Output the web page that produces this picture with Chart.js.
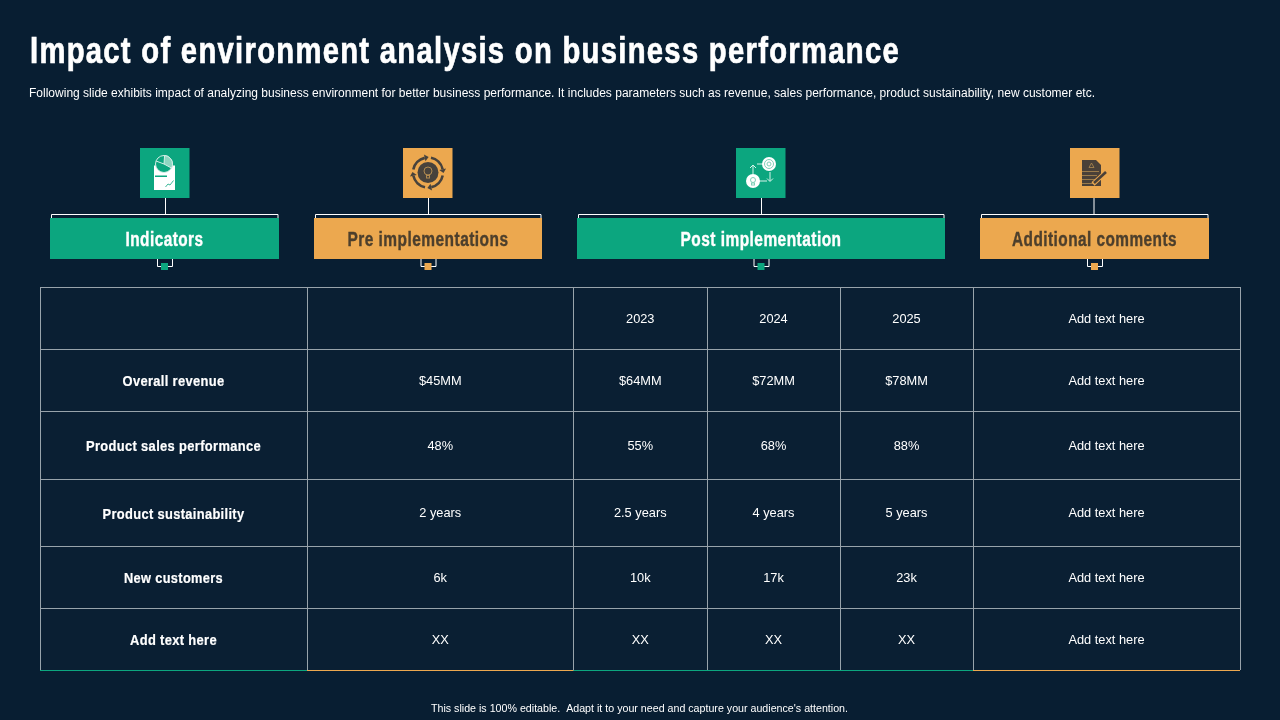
<!DOCTYPE html>
<html>
<head>
<meta charset="utf-8">
<title>Impact of environment analysis on business performance</title>
<script src="https://cdn.jsdelivr.net/npm/chart.js@4"></script>
<style>
html, body { margin: 0; padding: 0; background: #081e32; overflow: hidden; }
canvas { display: block; }
</style>
</head>
<body>
<canvas id="table_chart" width="1280" height="720"></canvas>
<script>
const title = 'Impact of environment analysis on business performance';
const subtitle = 'Following slide exhibits impact of analyzing business environment for better business performance. It includes parameters such as revenue, sales performance, product sustainability, new customer etc.';
const footer = "This slide is 100% editable.  Adapt it to your need and capture your audience's attention.";

const headings = ['Indicators', 'Pre implementations', 'Post implementation', 'Additional comments'];
const years = ['2023', '2024', '2025'];
const indicators = ['Overall revenue', 'Product sales performance', 'Product sustainability', 'New customers', 'Add text here'];
const pre_values = ['$45MM', '48%', '2 years', '6k', 'XX'];
const values_2023 = ['$64MM', '55%', '2.5 years', '10k', 'XX'];
const values_2024 = ['$72MM', '68%', '4 years', '17k', 'XX'];
const values_2025 = ['$78MM', '88%', '5 years', '23k', 'XX'];
const comments = ['Add text here', 'Add text here', 'Add text here', 'Add text here', 'Add text here'];

// layout of the slide, in slide pixels
const col_edges = [40, 307, 573.5, 707, 840, 973, 1240];
const row_edges = [287, 349, 411, 479, 546, 608, 670];
const boxes = [[50, 279, 140, 165.5], [314, 542, 403, 428.5], [577, 945, 736, 761.5], [980, 1209, 1070, 1094]];
const heading_widths = [78, 161, 161, 165];
const indicator_widths = [102, 175, 142, 99, 87];
const green = '#0ca67f';
const orange = '#eca84f';
const dark_text = '#4d3f2c';
const box_colors = [green, orange, green, orange];

function middle(edges, i)
{
      return (edges[i] + edges[i + 1]) / 2;
}

// one invisible point per cell, the text is drawn at the point by the plugin
const cell_points = [];
function add_column(col, texts, first_row, font)
{
      texts.forEach(function (text, i)
      {
            cell_points.push({ x: middle(col_edges, col), y: middle(row_edges, first_row + i), text: text, font: font, row: i });
      });
}
add_column(2, [years[0]], 0, 'normal');
add_column(3, [years[1]], 0, 'normal');
add_column(4, [years[2]], 0, 'normal');
add_column(5, ['Add text here'], 0, 'normal');
add_column(0, indicators, 1, 'bold');
add_column(1, pre_values, 1, 'normal');
add_column(2, values_2023, 1, 'normal');
add_column(3, values_2024, 1, 'normal');
add_column(4, values_2025, 1, 'normal');
add_column(5, comments, 1, 'normal');

function put_text(ctx, text, x, y, font, color)
{
      ctx.font = font;
      ctx.fillStyle = color;
      ctx.textAlign = 'center';
      ctx.textBaseline = 'alphabetic';
      ctx.fillText(text, x, y);
}

// no narrow font is installed, so the text is squeezed to the width it has on the slide
function fit_text(ctx, text, left, width, y, font, color, spacing, heavy)
{
      ctx.save();
      ctx.font = font;
      ctx.fillStyle = color;
      ctx.textAlign = 'left';
      ctx.textBaseline = 'alphabetic';
      ctx.letterSpacing = spacing || '0px';
      ctx.translate(left, y);
      ctx.scale(width / ctx.measureText(text).width, 1);
      ctx.fillText(text, 0, 0);
      if (heavy)
      {
            ctx.strokeStyle = color;
            ctx.lineWidth = heavy;
            ctx.strokeText(text, 0, 0);
      }
      ctx.restore();
}

function line(ctx, points, color, width)
{
      ctx.beginPath();
      points.forEach(function (p, i)
      {
            if (i === 0) ctx.moveTo(p[0], p[1]);
            else ctx.lineTo(p[0], p[1]);
      });
      ctx.strokeStyle = color;
      ctx.lineWidth = width;
      ctx.stroke();
}

function circle(ctx, x, y, r)
{
      ctx.beginPath();
      ctx.arc(x, y, r, 0, Math.PI * 2);
}

function icon_report(ctx)
{
      ctx.fillStyle = '#ffffff';
      ctx.fillRect(154, 165.5, 21, 24.5);
      circle(ctx, 164, 164, 8.5);
      ctx.fillStyle = green;
      ctx.fill();
      ctx.strokeStyle = '#d5efe7';
      ctx.lineWidth = 1;
      ctx.stroke();
      ctx.beginPath();
      ctx.moveTo(164, 164);
      ctx.arc(164, 164, 8.5, -1.5, 0.5);
      ctx.closePath();
      ctx.fillStyle = '#8ed6c1';
      ctx.fill();
      ctx.stroke();
      line(ctx, [[164, 164], [156, 161]], '#d5efe7', 1);
      ctx.fillStyle = green;
      ctx.fillRect(155, 175.5, 12, 1.5);
      line(ctx, [[165.5, 187], [168, 184], [170, 185], [173.5, 180.5]], green, 0.8);
}

function icon_bulb(ctx)
{
      const x = 428, y = 172.5;
      ctx.fillStyle = '#47423c';
      circle(ctx, x, y, 10.5);
      ctx.fill();
      circle(ctx, x, y - 1.5, 4);
      ctx.strokeStyle = '#b08a50';
      ctx.lineWidth = 1;
      ctx.stroke();
      ctx.strokeRect(x - 1.5, y + 3, 3, 2.5);
      for (let i = 0; i < 4; i++)
      {
            const start = i * Math.PI / 2 + 0.2;
            const end = start + 1.15;
            ctx.beginPath();
            ctx.arc(x, y, 15, start, end);
            ctx.strokeStyle = '#47423c';
            ctx.lineWidth = 2.6;
            ctx.stroke();
            // arrow head at the end of the arc
            const hx = x + 15 * Math.cos(end);
            const hy = y + 15 * Math.sin(end);
            const dir = end + Math.PI / 2;
            ctx.beginPath();
            ctx.moveTo(hx + 4 * Math.cos(dir), hy + 4 * Math.sin(dir));
            ctx.lineTo(hx + 3.5 * Math.cos(end), hy + 3.5 * Math.sin(end));
            ctx.lineTo(hx - 3.5 * Math.cos(end), hy - 3.5 * Math.sin(end));
            ctx.closePath();
            ctx.fillStyle = '#47423c';
            ctx.fill();
      }
}

function icon_cycle(ctx)
{
      const mint = '#d5f2e9';
      line(ctx, [[757, 164], [763, 164]], mint, 1);
      line(ctx, [[770, 172], [770, 181]], mint, 1);
      line(ctx, [[767, 178.5], [770, 181.5], [773, 178.5]], mint, 1);
      line(ctx, [[759, 181], [767, 181]], mint, 1);
      line(ctx, [[753, 165], [753, 174]], mint, 1);
      line(ctx, [[750, 168], [753, 165], [756, 168]], mint, 1);
      ctx.fillStyle = '#ffffff';
      circle(ctx, 769, 164, 7);
      ctx.fill();
      circle(ctx, 753, 181, 7);
      ctx.fill();
      ctx.strokeStyle = '#7fd0b8';
      ctx.lineWidth = 1;
      circle(ctx, 769, 164, 4.5);
      ctx.stroke();
      circle(ctx, 769, 164, 2);
      ctx.stroke();
      circle(ctx, 753, 180, 2.5);
      ctx.stroke();
      ctx.strokeRect(751.5, 183, 3, 2);
}

function icon_notes(ctx)
{
      ctx.fillStyle = '#4a4038';
      ctx.beginPath();
      ctx.moveTo(1082, 160);
      ctx.lineTo(1096, 160);
      ctx.lineTo(1101, 165);
      ctx.lineTo(1101, 186);
      ctx.lineTo(1082, 186);
      ctx.closePath();
      ctx.fill();
      for (let i = 0; i < 4; i++)
      {
            line(ctx, [[1082, 171.5 + i * 4], [1099 - i * 2, 171.5 + i * 4]], '#b08a50', 0.8);
      }
      line(ctx, [[1089, 167.5], [1091.5, 163], [1094, 167.5], [1089, 167.5]], '#b08a50', 0.8);
      line(ctx, [[1093, 184], [1106, 172]], orange, 4.5);
      line(ctx, [[1094, 183], [1106, 172]], '#4a4038', 2.6);
}

const icons = [icon_report, icon_bulb, icon_cycle, icon_notes];

const slide_plugin = {
      id: 'slide',
      beforeDraw: function (chart)
      {
            const ctx = chart.ctx;
            const area = chart.chartArea;
            ctx.save();
            ctx.fillStyle = '#081e32';
            ctx.fillRect(0, 0, chart.width, chart.height);
            ctx.fillStyle = '#0a1f33';
            ctx.fillRect(area.left, area.top, area.right - area.left, area.bottom - area.top);

            fit_text(ctx, title, 30, 870, 63, 'bold 36px "Liberation Sans"', '#ffffff', '1.6px', 0.7);
            fit_text(ctx, subtitle, 29, 1066, 97, '12px "Liberation Sans"', '#ffffff');
            fit_text(ctx, footer, 431, 417, 712, '10.5px "Liberation Sans"', '#ffffff');

            boxes.forEach(function (box, i)
            {
                  const left = box[0], right = box[1], icon_left = box[2], stem = box[3];
                  const mid = (left + right) / 2;
                  ctx.fillStyle = box_colors[i];
                  ctx.fillRect(icon_left, 148, 49.5, 50);
                  ctx.fillRect(left, 218, right - left, 41);
                  line(ctx, [[stem, 198], [stem, 214.5]], '#ffffff', 1);
                  line(ctx, [[left + 1.5, 218], [left + 1.5, 214.5], [right - 1, 214.5], [right - 1, 218]], '#ffffff', 1);
                  line(ctx, [[mid - 7, 259], [mid - 7, 266.5], [mid + 8, 266.5], [mid + 8, 259]], '#ffffff', 1);
                  ctx.fillStyle = box_colors[i];
                  ctx.fillRect(mid - 3.5, 263, 7, 7);
                  fit_text(ctx, headings[i], mid - heading_widths[i] / 2, heading_widths[i], 246, 'bold 20px "Liberation Sans"', i % 2 === 0 ? '#ffffff' : dark_text, '0.6px', 0.4);
                  icons[i](ctx);
            });
            ctx.restore();
      },
      afterDatasetsDraw: function (chart)
      {
            const ctx = chart.ctx;
            const area = chart.chartArea;
            const x_scale = chart.scales.x;
            ctx.save();
            // the lower table border changes colour per column group
            const bottom_colors = [green, orange, green, green, green, orange];
            bottom_colors.forEach(function (color, i)
            {
                  line(ctx, [[x_scale.getPixelForValue(col_edges[i]), area.bottom + 0.5], [x_scale.getPixelForValue(col_edges[i + 1]), area.bottom + 0.5]], color, 1);
            });
            chart.getDatasetMeta(0).data.forEach(function (el, i)
            {
                  const cell = cell_points[i];
                  if (cell.font === 'bold')
                  {
                        const w = indicator_widths[cell.row];
                        fit_text(ctx, cell.text, el.x - w / 2, w, el.y + 6, 'bold 15px "Liberation Sans"', '#ffffff', '0.4px', 0.2);
                  }
                  else
                  {
                        put_text(ctx, cell.text, el.x, el.y + 4.5, '12.8px "Liberation Sans"', '#ffffff');
                  }
            });
            ctx.restore();
      }
};

new Chart(document.getElementById('table_chart'), {
      type: 'scatter',
      data: {
            datasets: [{
                  data: cell_points,
                  pointRadius: 0,
                  pointHoverRadius: 0
            }]
      },
      options: {
            responsive: false,
            animation: false,
            events: [],
            layout: { padding: { left: 40, right: 40, top: 287, bottom: 50 } },
            plugins: { legend: { display: false }, tooltip: { enabled: false } },
            scales: {
                  x: {
                        type: 'linear',
                        min: col_edges[0],
                        max: col_edges[col_edges.length - 1],
                        afterBuildTicks: function (axis)
                        {
                              axis.ticks = col_edges.map(function (v) { return { value: v }; });
                        },
                        grid: { color: '#98a3ab', lineWidth: 1, drawTicks: false },
                        border: { display: false },
                        ticks: { display: false }
                  },
                  y: {
                        type: 'linear',
                        reverse: true,
                        min: row_edges[0],
                        max: row_edges[row_edges.length - 1],
                        afterBuildTicks: function (axis)
                        {
                              axis.ticks = row_edges.map(function (v) { return { value: v }; });
                        },
                        grid: { color: '#98a3ab', lineWidth: 1, drawTicks: false },
                        border: { display: false },
                        ticks: { display: false }
                  }
            }
      },
      plugins: [slide_plugin]
});
</script>
</body>
</html>
